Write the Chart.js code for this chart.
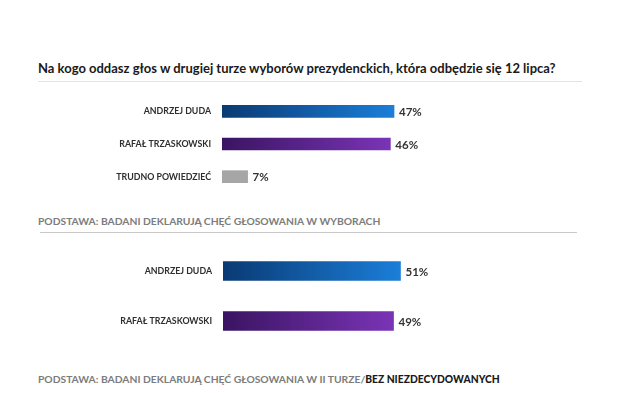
<!DOCTYPE html>
<html>
<head>
<meta charset="utf-8">
<script src="https://cdn.jsdelivr.net/npm/chart.js@4/dist/chart.umd.min.js"></script>
<style>
  html, body { margin: 0; padding: 0; background: #fff; }
  body { width: 644px; height: 393px; position: relative; overflow: hidden; font-family: Lato, 'Open Sans', sans-serif; }
  .title { position: absolute; left: 38px; top: 60px; font-size: 13px; font-weight: 700; color: #1a1a1a; white-space: nowrap; }
  .rule { position: absolute; height: 1px; background: #d9d9d9; }
  .note { position: absolute; left: 38px; font-size: 10.3px; font-weight: 700; color: #7c7c7c; white-space: nowrap; }
  .note b { color: #1a1a1a; }
  canvas { position: absolute; left: 0; }
</style>
</head>
<body>
<div class="title">Na kogo oddasz głos w drugiej turze wyborów prezydenckich, która odbędzie się 12 lipca?</div>
<div class="rule" style="left:38px; top:81px; width:544px; background:#e3e3e3"></div>

<canvas id="chartAll" width="644" height="98" style="top:95px"></canvas>

<div class="note" style="top:215px">PODSTAWA: BADANI DEKLARUJĄ CHĘĆ GŁOSOWANIA W WYBORACH</div>
<div class="rule" style="left:40px; top:232px; width:537px; background:#c8c8c8"></div>

<canvas id="chartDecided" width="644" height="100" style="top:246px"></canvas>

<div class="note" style="top:373px">PODSTAWA: BADANI DEKLARUJĄ CHĘĆ GŁOSOWANIA W II TURZE/<b>BEZ NIEZDECYDOWANYCH</b></div>

<script>
const categoriesAll = ['ANDRZEJ DUDA', 'RAFAŁ TRZASKOWSKI', 'TRUDNO POWIEDZIEĆ'];
const valuesAll = [47, 46, 7];
const categoriesDecided = ['ANDRZEJ DUDA', 'RAFAŁ TRZASKOWSKI'];
const valuesDecided = [51, 49];

const gradientStops = {
  'ANDRZEJ DUDA': ['#0a3a74', '#1b7ed8'],
  'RAFAŁ TRZASKOWSKI': ['#3a1462', '#7a34b6'],
  'TRUDNO POWIEDZIEĆ': ['#a6a6a6', '#a6a6a6']
};

function barFill(ctx) {
  const chart = ctx.chart;
  const label = chart.data.labels[ctx.dataIndex];
  const stops = gradientStops[label];
  if (!chart.chartArea) return stops[1];
  const x0 = chart.scales.x.getPixelForValue(0);
  const x1 = chart.scales.x.getPixelForValue(ctx.raw);
  const g = chart.ctx.createLinearGradient(x0, 0, x1, 0);
  g.addColorStop(0, stops[0]);
  g.addColorStop(1, stops[1]);
  return g;
}

const valueLabels = {
  id: 'valueLabels',
  afterDatasetsDraw(chart) {
    const ctx = chart.ctx;
    const meta = chart.getDatasetMeta(0);
    ctx.save();
    ctx.font = 'bold 11.5px Lato, sans-serif';
    ctx.fillStyle = '#333';
    ctx.textAlign = 'left';
    ctx.textBaseline = 'middle';
    meta.data.forEach((bar, i) => {
      ctx.fillText(chart.data.datasets[0].data[i] + '%', bar.x + 5, bar.y + 1);
    });
    ctx.restore();
  }
};

function makeChart(id, labels, data, axisWidth, padRight, thickness, xMax) {
  return new Chart(document.getElementById(id), {
    type: 'bar',
    data: {
      labels,
      datasets: [{
        data,
        backgroundColor: barFill,
        borderWidth: 0,
        barThickness: thickness
      }]
    },
    options: {
      indexAxis: 'y',
      responsive: false,
      animation: false,
      layout: { autoPadding: false, padding: { left: 0, right: padRight, top: 0, bottom: 0 } },
      plugins: { legend: { display: false }, tooltip: { enabled: false } },
      scales: {
        x: { display: false, min: 0, max: xMax },
        y: {
          grid: { display: false, drawTicks: false },
          border: { display: false },
          // fixed label column, no extra top/bottom room for the labels
          afterFit: (scale) => {
            scale.width = axisWidth;
            scale.paddingTop = 0;
            scale.paddingBottom = 0;
          },
          ticks: { color: '#2e2e2e', padding: 11, font: { family: 'Lato', size: 8.8, weight: 'bold' } }
        }
      }
    },
    plugins: [valueLabels]
  });
}

makeChart('chartAll', categoriesAll, valuesAll, 222, 56, 12, 100);
makeChart('chartDecided', categoriesDecided, valuesDecided, 223, 73, 19, 100);
</script>
</body>
</html>
